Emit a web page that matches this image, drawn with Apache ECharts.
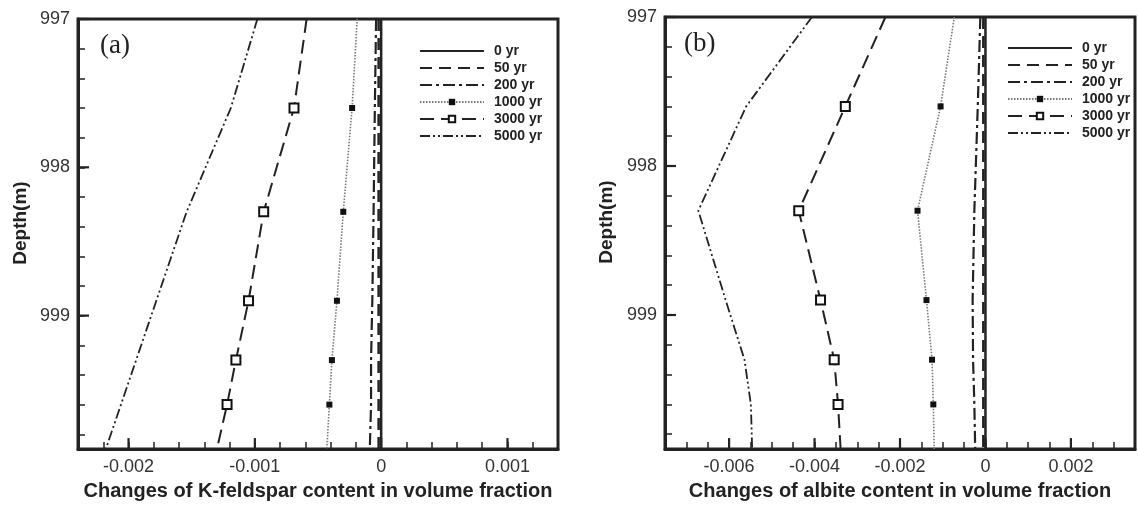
<!DOCTYPE html>
<html>
<head>
<meta charset="utf-8">
<script src="https://cdn.jsdelivr.net/npm/echarts@6/dist/echarts.min.js"></script>
<style>
  html, body { margin: 0; padding: 0; background: #fff; }
  #chart { width: 1138px; height: 506px; }
</style>
</head>
<body>
<div id="chart"></div>
<script>
// depth of every profile point (m), markers only on the inner ones
const depths = [997.0, 997.6, 998.3, 998.9, 999.3, 999.6, 999.9]
const markerDepths = [997.6, 998.3, 998.9, 999.3, 999.6]
const yearNames = ['0 yr', '50 yr', '200 yr', '1000 yr', '3000 yr', '5000 yr']

// (a) K-feldspar change, volume fraction
const kfs0 = [0, 0, 0, 0, 0, 0, 0]
const kfs50 = [-0.00002, -0.00002, -0.00002, -0.00002, -0.00002, -0.00002, -0.00002]
const kfs200 = [-0.00004, -0.00005, -0.00006, -0.00007, -0.00008, -0.00008, -0.00009]
const kfs1000 = [-0.00019, -0.00023, -0.00030, -0.00035, -0.00039, -0.00041, -0.00043]
const kfs3000 = [-0.00059, -0.00069, -0.00093, -0.00105, -0.00115, -0.00122, -0.00130]
const kfs5000 = [-0.00098, -0.00119, -0.00154, -0.00178, -0.00194, -0.00206, -0.00218]

// (b) albite change, volume fraction
const alb0 = [0, 0, 0, 0, 0, 0, 0]
const alb50 = [-0.00005, -0.00005, -0.00005, -0.00005, -0.00005, -0.00005, -0.00005]
const alb200 = [-0.00012, -0.00018, -0.00026, -0.00030, -0.00029, -0.00026, -0.00024]
const alb1000 = [-0.00073, -0.00105, -0.00159, -0.00138, -0.00125, -0.00122, -0.00120]
const alb3000 = [-0.00234, -0.00328, -0.00437, -0.00386, -0.00354, -0.00345, -0.00339]
const alb5000 = [-0.00406, -0.00560, -0.00672, -0.00608, -0.00564, -0.00549, -0.00546]

// labelled (long) ticks
const depthTicks = [997, 998, 999]
const kfsTicks = [-0.002, -0.001, 0, 0.001]
const albTicks = [-0.006, -0.004, -0.002, 0, 0.002]

const FONT = 'Liberation Sans, Arial, sans-serif'
const INK = '#222'
const DEPTH_MIN = 997
const DEPTH_MAX = 999.9

const lineLook = {
  '0 yr': { lineStyle: { type: 'solid', width: 2.5, color: INK } },
  '50 yr': { lineStyle: { type: [12, 7], width: 2.5, color: INK } },
  '200 yr': { lineStyle: { type: [12, 4, 3, 4], width: 2.2, color: INK } },
  '1000 yr': { lineStyle: { type: [1.5, 1.5], width: 1.6, color: '#777' }, symbol: 'rect', symbolSize: 6 },
  '3000 yr': { lineStyle: { type: [14, 7], width: 2, color: INK }, symbol: 'emptyRect', symbolSize: 9 },
  '5000 yr': { lineStyle: { type: [10, 3, 2, 3, 2, 3], width: 1.8, color: INK } },
}

function makeSeries(name, values, idx) {
  const look = lineLook[name]
  const hasMarker = !!look.symbol
  return {
    name,
    type: 'line',
    xAxisIndex: idx,
    yAxisIndex: idx,
    symbol: look.symbol || 'circle',
    symbolSize: look.symbolSize || 6,
    showSymbol: hasMarker,
    lineStyle: look.lineStyle,
    itemStyle: { color: '#111', borderWidth: 1.5 },
    data: values.map((v, i) => {
      const item = { value: [v, depths[i]] }
      if (!markerDepths.includes(depths[i])) item.symbol = 'none'
      return item
    }),
    emphasis: { disabled: true },
    z: 3,
  }
}

// long ticks at the labelled values, placed through the axis scales
function majorTicks(idx, dir, values, edge) {
  return {
    type: 'custom',
    xAxisIndex: idx,
    yAxisIndex: idx,
    silent: true,
    clip: false,
    z: 5,
    data: values.map(v => (dir === 'x' ? [v, edge] : [edge, v])),
    renderItem(params, api) {
      const p = api.coord([api.value(0), api.value(1)])
      const shape = dir === 'x'
        ? { x1: p[0], y1: p[1], x2: p[0], y2: p[1] - 11 }
        : { x1: p[0], y1: p[1], x2: p[0] + 11, y2: p[1] }
      return { type: 'line', shape, style: { stroke: INK, lineWidth: 2.2 } }
    },
  }
}

function isMultiple(v, step) {
  const r = v / step
  return Math.abs(r - Math.round(r)) < 1e-6
}

function xAxis(gridIndex, min, max, minorStep, labelStep, title) {
  return {
    gridIndex, type: 'value', min, max, interval: minorStep,
    name: title, nameLocation: 'middle', nameGap: 31,
    nameTextStyle: { fontFamily: FONT, fontSize: 20, fontWeight: 'bold', color: INK },
    axisLine: { show: true, lineStyle: { color: INK, width: 3 } },
    axisTick: { show: true, inside: true, length: 7, lineStyle: { color: INK, width: 1.5 } },
    axisLabel: {
      margin: 9, fontFamily: FONT, fontSize: 18, color: '#333',
      formatter: v => (isMultiple(v, labelStep) ? String(+v.toFixed(4)) : ''),
    },
    splitLine: { show: false },
  }
}

function yAxis(gridIndex, nameGap) {
  return {
    gridIndex, type: 'value', inverse: true, min: DEPTH_MIN, max: DEPTH_MAX, interval: 0.2,
    name: 'Depth(m)', nameLocation: 'middle', nameGap,
    nameTextStyle: { fontFamily: FONT, fontSize: 19, fontWeight: 'bold', color: INK, padding: [0, 0, 0, 22] },
    axisLine: { show: true, onZero: false, lineStyle: { color: INK, width: 3 } },
    axisTick: { show: true, inside: true, length: 7, lineStyle: { color: INK, width: 1.5 } },
    axisLabel: {
      margin: 8, fontFamily: FONT, fontSize: 18, color: '#333',
      formatter: v => (depthTicks.some(t => Math.abs(t - v) < 1e-6) ? String(Math.round(v)) : ''),
    },
    splitLine: { show: false },
  }
}

const legendData = yearNames.map(n => (lineLook[n].symbol ? { name: n } : { name: n, itemStyle: { opacity: 0 } }))

function legendAt(left, top) {
  return {
    orient: 'vertical', left, top, padding: 0,
    itemWidth: 64, itemHeight: 8, itemGap: 3,
    selectedMode: false,
    data: legendData,
    textStyle: { fontFamily: FONT, fontSize: 14, fontWeight: 'bold', color: INK, padding: [0, 0, 0, 5] },
  }
}

const chart = echarts.init(document.getElementById('chart'))

chart.setOption({
  animation: false,
  backgroundColor: '#fff',
  title: [
    { text: '(a)', left: 100, top: 32, padding: 0,
      textStyle: { fontFamily: 'Liberation Serif, Times New Roman, serif', fontSize: 27, fontWeight: 'normal', color: INK } },
    { text: '(b)', left: 684, top: 30, padding: 0,
      textStyle: { fontFamily: 'Liberation Serif, Times New Roman, serif', fontSize: 27, fontWeight: 'normal', color: INK } },
  ],
  legend: [legendAt(419, 44), legendAt(1007, 41)],
  grid: [
    { left: 78, top: 19, width: 480, height: 437, show: true, borderColor: INK, borderWidth: 3 },
    { left: 665, top: 17, width: 480, height: 437, show: true, borderColor: INK, borderWidth: 3 },
  ],
  xAxis: [
    xAxis(0, -0.0024, 0.0014, 0.0002, 0.001, 'Changes of K-feldspar content in volume fraction'),
    xAxis(1, -0.0075, 0.0035, 0.0005, 0.002, 'Changes of albite content in volume fraction'),
  ],
  yAxis: [yAxis(0, 48), yAxis(1, 49)],
  series: [
    makeSeries('0 yr', kfs0, 0),
    makeSeries('50 yr', kfs50, 0),
    makeSeries('200 yr', kfs200, 0),
    makeSeries('1000 yr', kfs1000, 0),
    makeSeries('3000 yr', kfs3000, 0),
    makeSeries('5000 yr', kfs5000, 0),
    makeSeries('0 yr', alb0, 1),
    makeSeries('50 yr', alb50, 1),
    makeSeries('200 yr', alb200, 1),
    makeSeries('1000 yr', alb1000, 1),
    makeSeries('3000 yr', alb3000, 1),
    makeSeries('5000 yr', alb5000, 1),
    majorTicks(0, 'x', kfsTicks, DEPTH_MAX),
    majorTicks(0, 'y', depthTicks, -0.0024),
    majorTicks(1, 'x', albTicks, DEPTH_MAX),
    majorTicks(1, 'y', depthTicks, -0.0075),
  ],
})
</script>
</body>
</html>
